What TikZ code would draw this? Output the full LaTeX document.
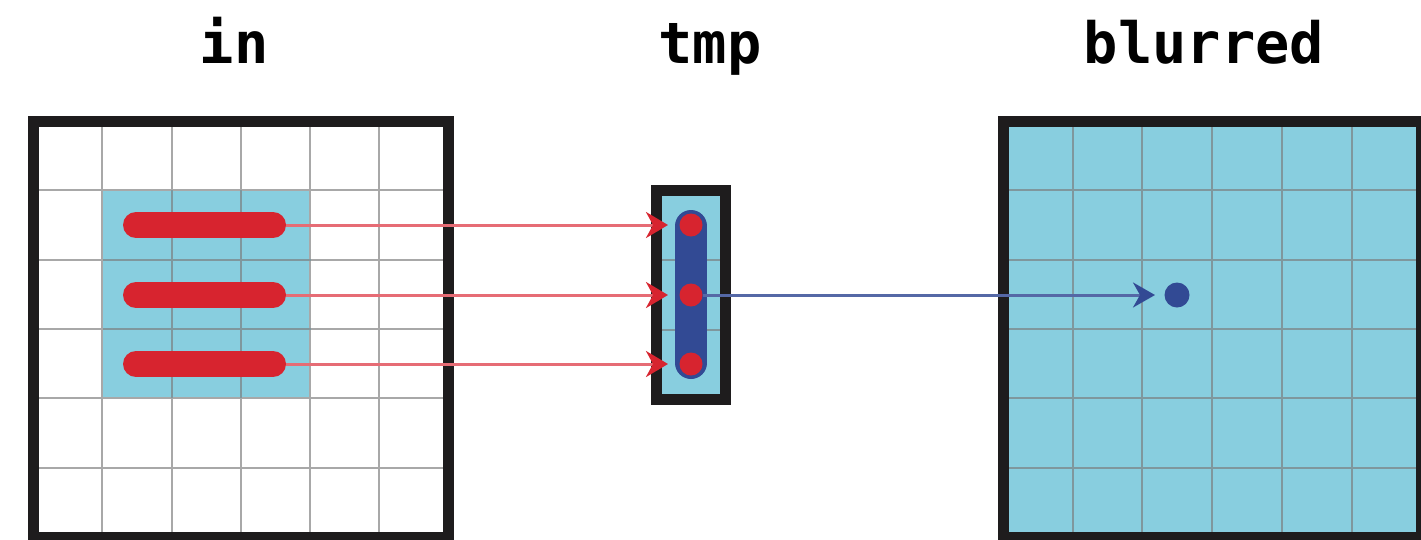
\documentclass[tikz,border=0pt]{standalone}
\usepackage{fontspec}
\setmonofont{DejaVu Sans Mono}
\usetikzlibrary{arrows.meta}
\definecolor{cellcyan}{HTML}{88CEDF}
\definecolor{barred}{HTML}{D7242F}
\definecolor{linkred}{HTML}{E66C75}
\definecolor{pillblue}{HTML}{324A94}
\definecolor{linkblue}{HTML}{5568A6}
\definecolor{frameblack}{HTML}{1E1C1D}
\definecolor{gridgray}{HTML}{A8A8A8}
\definecolor{gridcyan}{HTML}{7F979D}
\tikzset{
  title/.style={font=\fontsize{57}{60}\selectfont\ttfamily\bfseries, anchor=base, inner sep=0pt},
  frame/.style={draw=frameblack, line width=11pt, rectangle, inner sep=0pt, outer sep=0pt, anchor=north west},
  gridline/.style={draw=gridgray, line width=2pt},
  cyangridline/.style={draw=gridcyan, line width=2pt},
  redbar/.style={draw=barred, line width=26pt, line cap=round},
  pill/.style={draw=pillblue, line width=32pt, line cap=round},
  reddot/.style={circle, fill=barred, minimum size=23pt, inner sep=0pt, outer sep=0pt},
  bluedot/.style={circle, fill=pillblue, minimum size=25pt, inner sep=0pt, outer sep=0pt},
  redlink/.style={draw=linkred, line width=3pt, -{Stealth[length=22pt, width=26pt, inset=7pt, color=barred]}, shorten >=11.5pt},
  bluelink/.style={draw=linkblue, line width=3pt, -{Stealth[length=22pt, width=25pt, inset=7pt, color=pillblue]}, shorten >=9.5pt}
}
\begin{document}
\begin{tikzpicture}[x=1pt, y=-1pt]
\useasboundingbox (0,0) rectangle (1421,539);
\fill[white] (0,0) rectangle (1421,539);
% titles
\node[title] (tin) at (234,63) {in};
\node[title] (ttmp) at (710,63) {tmp};
\node[title] (tblur) at (1204,63) {blurred};
% ---- input grid ----
\fill[cellcyan] (103.25,190.3) rectangle (310.75,398.2);
\foreach \i in {1,...,5} {
  \draw[gridline] ({33+69.25*\i},121) -- ({33+69.25*\i},537);
  \draw[gridline] (33,{121+69.3*\i}) -- (448.5,{121+69.3*\i});
}
\foreach \i in {2,3} {
  \draw[cyangridline] ({33+69.25*\i},190.3) -- ({33+69.25*\i},398.2);
  \draw[cyangridline] (103.25,{121+69.3*\i}) -- (310.75,{121+69.3*\i});
}
\node[frame, minimum width=415.5pt, minimum height=416pt] (ingrid) at (33,121) {};
\foreach \k/\y in {1/225,2/295,3/364} {
  \draw[redbar] (136,\y) -- (273,\y);
  \coordinate (b\k) at (286,\y);
}
% ---- tmp column ----
\fill[cellcyan] (656,190.5) rectangle (725.5,399.5);
\draw[cyangridline] (656,260) -- (725.5,260);
\draw[cyangridline] (656,330) -- (725.5,330);
\node[frame, minimum width=69.5pt, minimum height=209pt] (tmpbox) at (656,190.5) {};
\draw[pill] (691,226) -- (691,363);
\node[reddot] (t1) at (691,225) {};
\node[reddot] (t2) at (691,295) {};
\node[reddot] (t3) at (691,364) {};
% ---- output grid ----
\fill[cellcyan] (1003,121) rectangle (1421.2,537);
\foreach \i in {1,...,5} {
  \draw[cyangridline] ({1003+69.7*\i},121) -- ({1003+69.7*\i},537);
  \draw[cyangridline] (1003,{121+69.3*\i}) -- (1421.2,{121+69.3*\i});
}
\node[frame, minimum width=418.2pt, minimum height=416pt] (outgrid) at (1003,121) {};
\node[bluedot] (bd) at (1177,295) {};
% ---- connectors ----
\draw[redlink] (b1) -- (t1.west);
\draw[redlink] (b2) -- (t2.west);
\draw[redlink] (b3) -- (t3.west);
\draw[bluelink] (t2.east) -- (bd.west);
\end{tikzpicture}
\end{document}
